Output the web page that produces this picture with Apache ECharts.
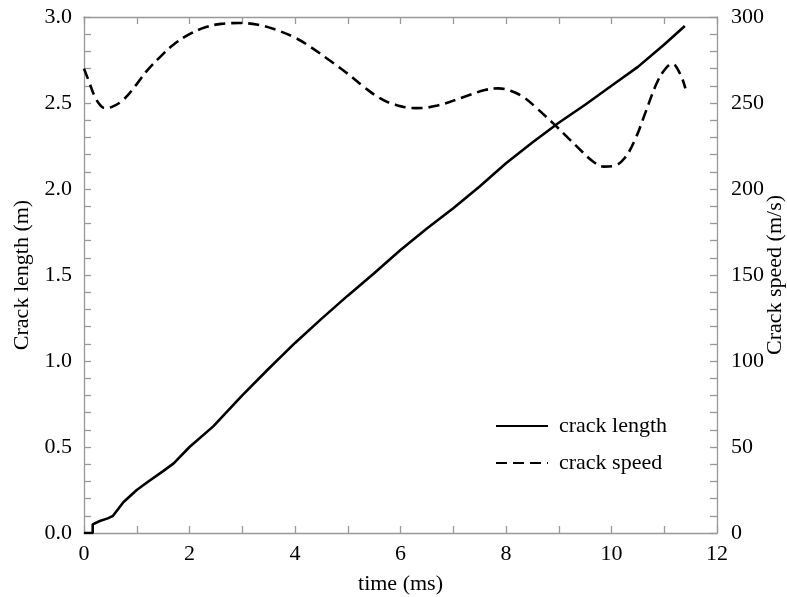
<!DOCTYPE html>
<html>
<head>
<meta charset="utf-8">
<script src="https://cdn.jsdelivr.net/npm/echarts@6/dist/echarts.min.js"></script>
<style>html,body{margin:0;padding:0;background:#fff;}#c{width:787px;height:597px;}</style>
</head>
<body>
<div id="c"></div>
<script>
// time (ms), crack length (m)
var lengthTime = [0,0.165,0.165,0.3,0.45,0.55,0.75,1.0,1.2,1.5,1.7,2.0,2.45,3.0,3.5,4.0,4.5,5.0,5.5,6.0,6.5,7.0,7.5,8.0,8.5,9.0,9.5,10.0,10.5,11.0,11.39];
var lengthVal  = [0,0,0.05,0.07,0.085,0.1,0.18,0.25,0.295,0.36,0.405,0.5,0.62,0.8,0.955,1.105,1.245,1.38,1.51,1.645,1.77,1.888,2.015,2.15,2.27,2.385,2.49,2.6,2.71,2.84,2.948];
// time (ms), crack speed (m/s)
var speedTime = [0,0.1,0.2,0.3,0.4,0.55,0.75,1.0,1.2,1.45,1.7,2.0,2.3,2.6,2.95,3.3,3.6,4.0,4.3,4.6,5.0,5.3,5.6,5.9,6.3,6.7,7.2,7.6,7.85,8.1,8.35,8.6,8.9,9.2,9.45,9.65,9.85,10.05,10.25,10.45,10.65,10.85,11.0,11.15,11.3,11.4];
var speedVal  = [270,262,254,249,247,248,252,261,269,277,284,290,294,296,296.5,295.5,293,288,282.5,276,267,259.5,253,249,247,248.5,253.5,257.5,258.5,257,253,246.5,238,229,221.5,216,213,213.5,218,229,245,261,269,272.8,267,258.5];
var leftTicks = [0,0.5,1.0,1.5,2.0,2.5,3.0];
var rightTicks = [0,50,100,150,200,250,300];
var xTicks = [0,2,4,6,8,10,12];

var FONT = 'Liberation Serif';
var AX = '#999';
var FS = 22;
function zip(a,b){return a.map(function(v,i){return [v,b[i]];});}
function tickStyle(split){
  return {
    axisLine:{show:true,onZero:false,lineStyle:{color:AX,width:1.3}},
    axisTick:{show:true,inside:true,length:7,lineStyle:{color:AX,width:1.3}},
    minorTick:{show:true,splitNumber:split,length:7,lineStyle:{color:AX,width:1.3}},
    splitLine:{show:false},
    minorSplitLine:{show:false}
  };
}
function ax(split,o){return Object.assign(tickStyle(split), o);}

var chart = echarts.init(document.getElementById('c'));
chart.setOption({
  animation:false,
  backgroundColor:'#fff',
  grid:{left:84,right:70,top:17,bottom:64,containLabel:false,outerBoundsMode:'none'},
  legend:{
    orient:'vertical', left:490, top:410, itemWidth:52, itemHeight:14, itemGap:15,
    itemStyle:{color:'rgba(0,0,0,0)',borderWidth:0},
    textStyle:{fontFamily:FONT,fontSize:FS,color:'#000',lineHeight:22,padding:[0,0,0,6]},
    data:['crack length','crack speed']
  },
  xAxis:[
    ax(2,{type:'value',min:xTicks[0],max:xTicks[xTicks.length-1],interval:2,position:'bottom',
      name:'time (ms)',nameLocation:'middle',nameGap:40,
      nameTextStyle:{fontFamily:FONT,fontSize:FS,color:'#000'},
      axisLabel:{color:'#000',fontFamily:FONT,fontSize:FS,margin:10}}),
    ax(2,{type:'value',min:0,max:12,interval:2,position:'top',
      axisLabel:{show:false}})
  ],
  yAxis:[
    ax(5,{type:'value',min:leftTicks[0],max:leftTicks[leftTicks.length-1],interval:0.5,position:'left',
      name:'Crack length (m)',nameLocation:'middle',nameRotate:90,nameGap:50,
      nameTextStyle:{fontFamily:FONT,fontSize:FS,color:'#000'},
      axisLabel:{color:'#000',fontFamily:FONT,fontSize:FS,margin:12,formatter:function(v){return v.toFixed(1);}}}),
    ax(5,{type:'value',min:rightTicks[0],max:rightTicks[rightTicks.length-1],interval:50,position:'right',
      name:'Crack speed (m/s)',nameLocation:'middle',nameRotate:90,nameGap:47,nameMoveOverlap:false,
      nameTextStyle:{fontFamily:FONT,fontSize:FS,color:'#000'},
      axisLabel:{color:'#000',fontFamily:FONT,fontSize:FS,margin:14}})
  ],
  series:[
    {name:'crack length',type:'line',xAxisIndex:0,yAxisIndex:0,data:zip(lengthTime,lengthVal),
     showSymbol:false,symbol:'none',lineStyle:{color:'#000',width:2.6},itemStyle:{color:'#000'}},
    {name:'crack speed',type:'line',xAxisIndex:0,yAxisIndex:1,data:zip(speedTime,speedVal),
     showSymbol:false,symbol:'none',smooth:0.4,lineStyle:{color:'#000',width:2.6,type:[11,6]},itemStyle:{color:'#000'}}
  ]
});
</script>
</body>
</html>
